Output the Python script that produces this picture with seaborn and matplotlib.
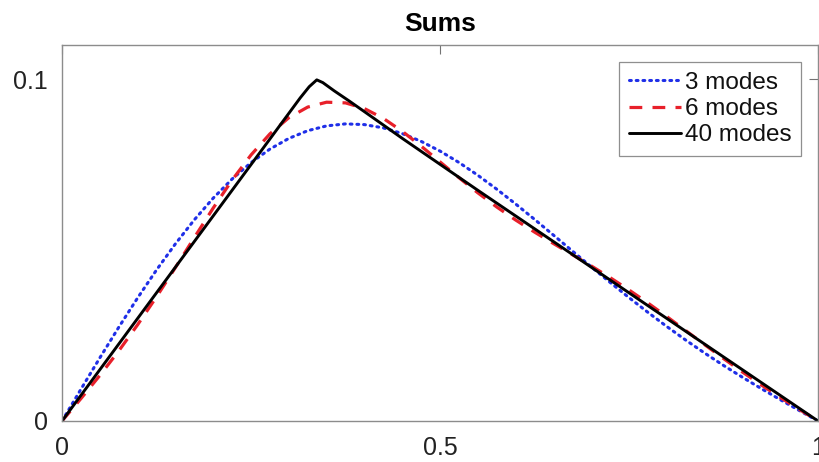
import numpy as np
import pandas as pd
import matplotlib
matplotlib.use("Agg")
import matplotlib.pyplot as plt
import seaborn as sns

# ---- data ----
x_fine = [i / 40 for i in range(41)]
y_3modes = [0.0, 0.009284, 0.018455, 0.027399, 0.036009, 0.044181, 0.051825, 0.058854,
            0.065196, 0.070788, 0.075585, 0.079551, 0.082667, 0.084926, 0.086338, 0.086921,
            0.086712, 0.085753, 0.084101, 0.081817, 0.078972, 0.075641, 0.071899, 0.067827,
            0.063502, 0.059001, 0.054392, 0.049744, 0.045113, 0.040551, 0.036099, 0.031788,
            0.027642, 0.023672, 0.019879, 0.016261, 0.012799, 0.009473, 0.006253, 0.003108, 0.0]
y_6modes = [0.0, 0.006550, 0.013320, 0.020487, 0.028156, 0.036327, 0.044897, 0.053652,
            0.062295, 0.070472, 0.077819, 0.083995, 0.088727, 0.091838, 0.093266, 0.093066,
            0.091406, 0.088537, 0.084769, 0.080424, 0.075813, 0.071197, 0.066764, 0.062625,
            0.058808, 0.055274, 0.051931, 0.048669, 0.045371, 0.041944, 0.038333, 0.034522,
            0.030543, 0.026456, 0.022340, 0.018278, 0.014334, 0.010548, 0.006921, 0.003424, 0.0]
x_40 = [0.0, 0.05, 0.1, 0.15, 0.2, 0.25, 0.3, 0.315, 0.327, 0.337, 0.345, 0.36, 0.38,
        0.4, 0.45, 0.5, 0.55, 0.6, 0.65, 0.7, 0.75, 0.8, 0.85, 0.9, 0.95, 1.0]
y_40modes = [0.0, 0.015, 0.030, 0.045, 0.060, 0.075, 0.0900, 0.0945, 0.0978, 0.0998, 0.0990,
             0.0966, 0.0936, 0.0905, 0.0827, 0.0751, 0.0675, 0.0600, 0.0525, 0.0450, 0.0375,
             0.0300, 0.0225, 0.0150, 0.0075, 0.0]
labels = ["3 modes", "6 modes", "40 modes"]
title = "Sums"
xticks = [0, 0.5, 1]
xticklabels = ["0", "0.5", "1"]
yticks = [0, 0.1]
yticklabels = ["0", "0.1"]

sns.set_style("white")
plt.rcParams["font.family"] = ["Liberation Sans", "DejaVu Sans"]

fig = plt.figure(figsize=(8.19, 4.62), dpi=100)
ax = fig.add_axes([62 / 819, 41 / 462, 756 / 819, 376 / 462])

df3 = pd.DataFrame({"x": x_fine, "y": y_3modes})
df6 = pd.DataFrame({"x": x_fine, "y": y_6modes})
df40 = pd.DataFrame({"x": x_40, "y": y_40modes})

sns.lineplot(data=df3, x="x", y="y", ax=ax, color="#1f2fe8", lw=2.2,
             label=labels[0], sort=False)
sns.lineplot(data=df6, x="x", y="y", ax=ax, color="#e8202a", lw=2.3,
             label=labels[1], sort=False)
sns.lineplot(data=df40, x="x", y="y", ax=ax, color="black", lw=2.1,
             label=labels[2], sort=False)
lines = ax.get_lines()
lines[0].set_linestyle((0, (0.6, 1.6)))
lines[0].set_dash_capstyle("round")
lines[1].set_linestyle((0, (4.0, 3.2)))
lines[2].set_solid_joinstyle("round")

ax.set_xlim(0, 1)
ax.set_ylim(0, 0.11)
ax.set_xticks(xticks)
ax.set_xticklabels(xticklabels)
ax.set_yticks(yticks)
ax.set_yticklabels(yticklabels)
ax.set_xlabel("")
ax.set_ylabel("")
ax.tick_params(direction="in", length=6.5, width=0.8, color="0.45",
               top=True, right=True, labelsize=18, labelcolor="#222222")
ax.tick_params(axis="x", pad=10.5)
ax.tick_params(axis="y", pad=10)
for s in ax.spines.values():
    s.set_color("0.55")
    s.set_linewidth(1.0)

ax.set_title(title, fontsize=19, fontweight="bold", pad=10, color="black")

leg = ax.legend(loc="upper right", bbox_to_anchor=(0.9775, 0.955), fontsize=17.5,
                frameon=True, fancybox=False, edgecolor="0.45", handlelength=2.15,
                handletextpad=0.15, borderpad=0.4, labelspacing=0.18,
                borderaxespad=0)
leg.get_frame().set_linewidth(0.9)
for t in leg.get_texts():
    t.set_color("#111111")

fig.savefig("out.png", dpi=100)
